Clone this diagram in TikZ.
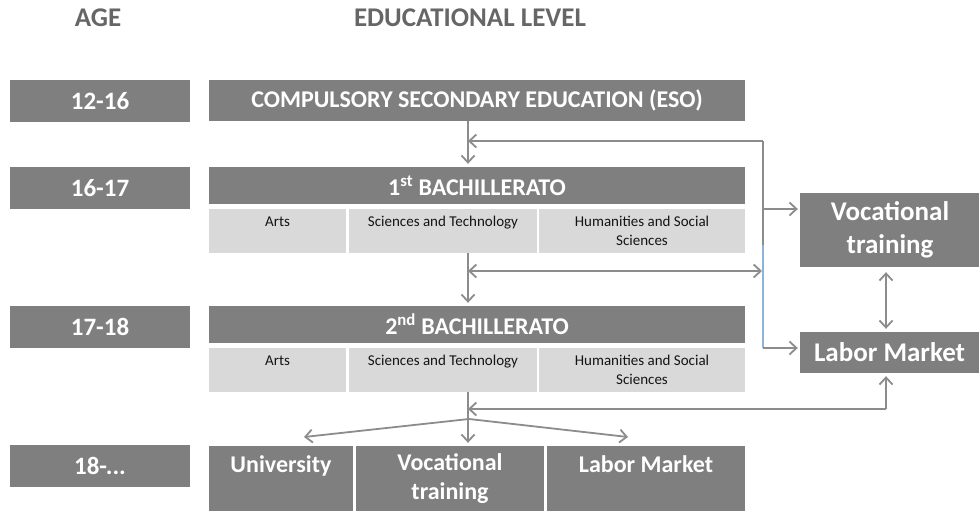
\documentclass[tikz,border=0pt]{standalone}
\usepackage{fontspec}
\setmainfont{Carlito}
\usetikzlibrary{arrows.meta}
\definecolor{dark}{HTML}{7F7F7F}
\definecolor{light}{HTML}{D9D9D9}
\definecolor{hdr}{HTML}{666666}
\definecolor{arrgray}{HTML}{8C8C8C}
\definecolor{bluel}{HTML}{8DB3DA}
\begin{document}
\begin{tikzpicture}[x=1pt,y=-1pt,
  darkbox/.style={fill=dark, text=white, inner sep=0pt, align=center,
    font=\bfseries\fontsize{24}{29}\selectfont},
  agebox/.style={darkbox, minimum width=180pt, minimum height=42pt,
    font=\bfseries\fontsize{25}{30}\selectfont},
  levelbox/.style={darkbox, minimum width=536pt, minimum height=37pt},
  cellbox/.style={fill=light, text=black!92, inner sep=0pt, align=center,
    minimum height=44pt, font=\fontsize{15}{18.5}\selectfont},
  bottombox/.style={darkbox, minimum height=65pt},
  sidebox/.style={darkbox, minimum width=180pt,
    font=\bfseries\fontsize{27}{33}\selectfont},
  headtext/.style={text=hdr, font=\bfseries\fontsize{27}{32}\selectfont},
  conn/.style={draw=arrgray, line width=1.8pt},
  arr/.style={conn, -{Straight Barb[length=7pt,width=13pt,line width=1.8pt]}},
  dbl/.style={conn, {Straight Barb[length=7pt,width=13pt,line width=1.8pt]}-{Straight Barb[length=7pt,width=13pt,line width=1.8pt]}},
]
\useasboundingbox (0,0) rectangle (979,511);

% headers
\node[headtext] (hage) at (98,18) {AGE};
\node[headtext] (hlev) at (470,18) {EDUCATIONAL LEVEL};

% age boxes
\node[agebox] (a1) at (100,101) {12-16};
\node[agebox] (a2) at (100,188) {16-17};
\node[agebox] (a3) at (100,326.5) {17-18};
\node[agebox] (a4) at (100,466) {18-...};

% levels
\node[levelbox, minimum height=41pt] (eso) at (477,100.5) {COMPULSORY SECONDARY EDUCATION (ESO)};
\node[levelbox] (b1) at (477,185.5) {1\textsuperscript{st} BACHILLERATO};
\node[cellbox, minimum width=137pt] (arts1) at (277.5,231) {Arts\\~};
\node[cellbox, minimum width=188pt] (sci1) at (443,231) {Sciences and Technology\\~};
\node[cellbox, minimum width=206pt] (hum1) at (642,231) {Humanities and Social\\Sciences};

\node[levelbox] (b2) at (477,324.5) {2\textsuperscript{nd} BACHILLERATO};
\node[cellbox, minimum width=137pt] (arts2) at (277.5,370) {Arts\\~};
\node[cellbox, minimum width=188pt] (sci2) at (443,370) {Sciences and Technology\\~};
\node[cellbox, minimum width=206pt] (hum2) at (642,370) {Humanities and Social\\Sciences};

% bottom destinations
\node[bottombox, minimum width=144pt] (buni) at (281,478.5) {University\\~};
\node[bottombox, minimum width=188pt] (bvoc) at (450,478.5) {Vocational\\training};
\node[bottombox, minimum width=198pt] (blab) at (646,478.5) {Labor Market\\~};

% side boxes
\node[sidebox, minimum height=74pt, text depth=4pt] (rvoc) at (890,230) {Vocational\\training};
\node[sidebox, minimum width=179pt, minimum height=41pt] (rlab) at (889.5,352.5) {Labor Market};

% coordinates
\coordinate (m1) at (468,141);
\coordinate (m2) at (468,271);
\coordinate (m3) at (468,409);
\coordinate (r1) at (763,141);
\coordinate (r4) at (763,209);
\coordinate (r2) at (763,245);
\coordinate (r5) at (762,271);
\coordinate (r3) at (763,348);
\coordinate (c1) at (886,409);
\coordinate (v1) at (886,0);
\coordinate (f) at (469,419);
\coordinate (f1) at (304,437);
\coordinate (f2) at (628,437);

% connectors
\draw[arr, shorten >=3pt] (eso.south -| m1) -- (b1.north -| m1);
\draw[arr] (r1) -- (m1);
\draw[conn] (r1) -- (r2);
\draw[draw=bluel, line width=1.2pt] (r2) -- (r3);
\draw[arr, shorten >=2pt] (r4) -- (r4 -| rvoc.west);
\draw[dbl] (m2) -- (r5);
\draw[arr, shorten >=3pt] (sci1.south -| m2) -- (b2.north -| m2);
\draw[arr, shorten >=2pt] (r3) -- (r3 -| rlab.west);
\draw[dbl, shorten <=5pt, shorten >=3pt] (rvoc.south -| v1) -- (rlab.north -| v1);
\draw[arr] (c1) -- (m3);
\draw[arr, shorten >=3pt] (c1) -- (rlab.south -| c1);
\draw[arr, shorten >=3pt] (sci2.south -| m3) -- (bvoc.north -| m3);
\draw[arr] (f) -- (f1);
\draw[arr] (f) -- (f2);
\end{tikzpicture}
\end{document}
